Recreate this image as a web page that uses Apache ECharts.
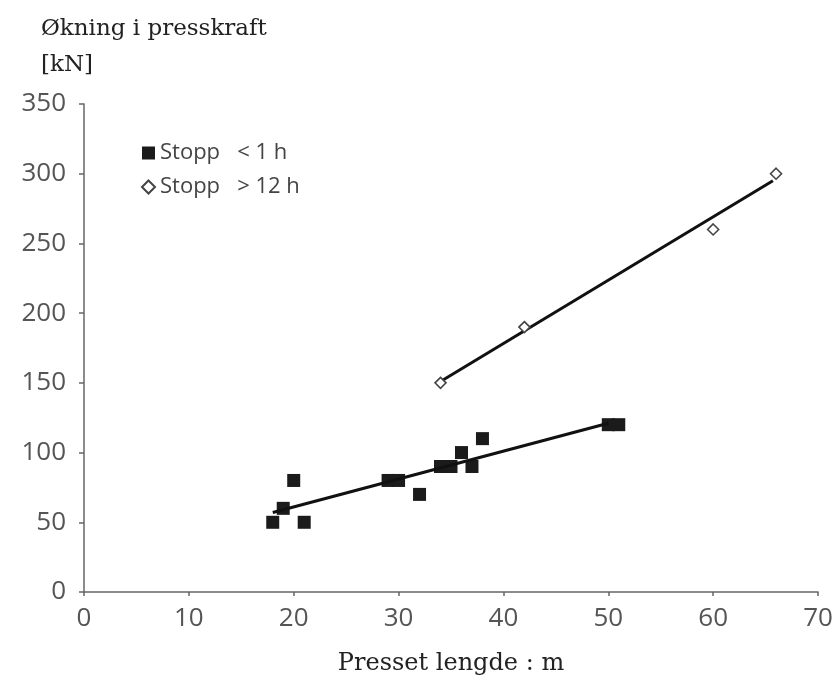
<!DOCTYPE html>
<html>
<head>
<meta charset="utf-8">
<script src="https://cdn.jsdelivr.net/npm/echarts@6/dist/echarts.min.js"></script>
<style>
  html, body { margin: 0; padding: 0; background: #fff; }
  #demo { width: 839px; height: 688px; }
</style>
</head>
<body>
<div id="demo"></div>
<script>
// Stopp < 1 h  (filled squares)
var shortX = [18, 19, 20, 21, 29, 30, 32, 34, 35, 36, 37, 38, 50, 51];
var shortY = [50, 60, 80, 50, 80, 80, 70, 90, 90, 100, 90, 110, 120, 120];
// Stopp > 12 h (open diamonds)
var longX = [34, 42, 60, 66];
var longY = [150, 190, 260, 300];
// trend lines, endpoints
var shortTrend = [[18, 57], [50, 121]];
var longTrend = [[34, 151], [65.7, 295]];

var xTicks = [0, 10, 20, 30, 40, 50, 60, 70];
var yTicks = [0, 50, 100, 150, 200, 250, 300, 350];

function pairs(xs, ys) {
    var out = [];
    for (var i = 0; i < xs.length; i++) {
        out.push([xs[i], ys[i]]);
    }
    return out;
}

var tickFont = {
    color: '#555',
    fontSize: 26,
    fontFamily: 'Open Sans'
};

var mychar = echarts.init(document.getElementById('demo'));
mychar.setOption({
    backgroundColor: '#fff',
    animation: false,
    title: {
        left: 36,
        top: 6,
        text: 'Økning i presskraft\n[kN]',
        textStyle: {
            fontFamily: 'DejaVu Serif',
            fontWeight: 'normal',
            fontSize: 23,
            lineHeight: 36,
            color: '#222'
        }
    },
    legend: {
        orient: 'vertical',
        left: 136,
        top: 137,
        itemGap: 12,
        itemWidth: 13,
        itemHeight: 13,
        textStyle: {
            fontFamily: 'Open Sans',
            fontSize: 22,
            color: '#444'
        },
        data: [
            { name: 'Stopp   < 1 h', icon: 'rect' },
            { name: 'Stopp   > 12 h', icon: 'diamond' }
        ]
    },
    grid: {
        left: 84,
        right: 21,
        top: 104,
        bottom: 96
    },
    xAxis: {
        type: 'value',
        min: xTicks[0],
        max: xTicks[xTicks.length - 1],
        interval: 10,
        name: 'Presset lengde : m',
        nameLocation: 'middle',
        nameGap: 60,
        nameTextStyle: {
            fontFamily: 'DejaVu Serif',
            fontSize: 24,
            color: '#222'
        },
        splitLine: { show: false },
        axisLine: { lineStyle: { color: '#666', width: 1.5 } },
        axisTick: { show: true, length: 4, lineStyle: { color: '#666', width: 1.5 } },
        axisLabel: Object.assign({ margin: 14 }, tickFont)
    },
    yAxis: {
        type: 'value',
        min: yTicks[0],
        max: yTicks[yTicks.length - 1],
        interval: 50,
        splitLine: { show: false },
        axisLine: { show: true, lineStyle: { color: '#666', width: 1.5 } },
        axisTick: { show: true, length: 5, lineStyle: { color: '#666', width: 1.5 } },
        axisLabel: Object.assign({ margin: 18 }, tickFont)
    },
    series: [
        {
            name: 'Stopp   < 1 h',
            type: 'scatter',
            symbol: 'rect',
            symbolSize: 13,
            itemStyle: { color: '#1b1b1b', opacity: 1 },
            data: pairs(shortX, shortY),
            z: 3
        },
        {
            name: 'Stopp   > 12 h',
            type: 'scatter',
            symbol: 'diamond',
            symbolSize: 11,
            itemStyle: { color: '#fff', borderColor: '#444', borderWidth: 1.6, opacity: 1 },
            data: pairs(longX, longY),
            z: 3
        },
        {
            name: 'trend1',
            type: 'line',
            showSymbol: false,
            symbol: 'none',
            lineStyle: { color: '#111', width: 3 },
            data: shortTrend,
            z: 4
        },
        {
            name: 'trend2',
            type: 'line',
            showSymbol: false,
            symbol: 'none',
            lineStyle: { color: '#111', width: 3 },
            data: longTrend,
            z: 2
        }
    ]
});
</script>
</body>
</html>
